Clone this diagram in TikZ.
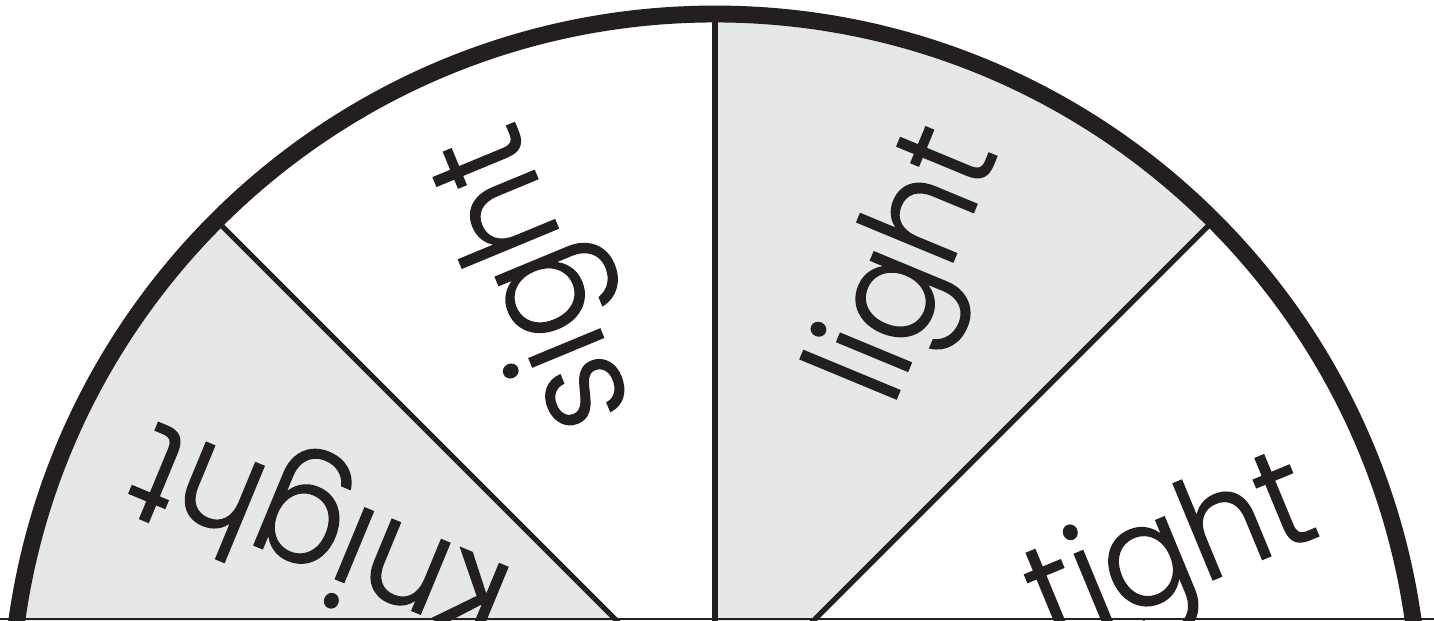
\documentclass[tikz,border=0pt]{standalone}
\usepackage{fontspec}
\setmainfont{Poppins}[UprightFont={* Light}, FakeStretch=0.93, FakeBold=1]
\usetikzlibrary{calc}
\definecolor{wheelgray}{HTML}{E6E7E8}
\definecolor{wheelink}{HTML}{231F20}

\begin{document}
\begin{tikzpicture}[x=0.01cm,y=0.01cm,
  word/.style={font=\fontsize{40}{40}\selectfont, text=wheelink, inner sep=0pt, anchor=base east},
  spoke/.style={draw=wheelink, line width=1.5pt},
  rim/.style={draw=wheelink, line width=4.8pt}]
  \useasboundingbox (-715,99) rectangle (719,719);
  \coordinate (hub) at (0,0);

  % wedges, alternating shade
  \foreach \a/\c in {0/white,45/wheelgray,90/white,135/wheelgray}
    \fill[\c] (hub) -- (\a:705) arc[start angle=\a, end angle=\a+45, radius=705] -- cycle;

  % spokes and rim
  \foreach \a in {0,45,90,135,180}
    \draw[spoke] (hub) -- (\a:705);
  \draw[rim] (0:705) arc[start angle=0, end angle=180, radius=705];

  % words, reading outward from the hub
  \foreach \a/\w/\d in {22.5/tight/62,67.5/light/45,112.5/sight/43,157.5/knight/61}
    \node[word, rotate=\a] (\w) at ($(hub)+(\a:633)+(\a-90:\d)$) {\w};

  \draw[wheelink, line width=0.7pt] (-715,100.2) -- (719,100.2);
\end{tikzpicture}
\end{document}
